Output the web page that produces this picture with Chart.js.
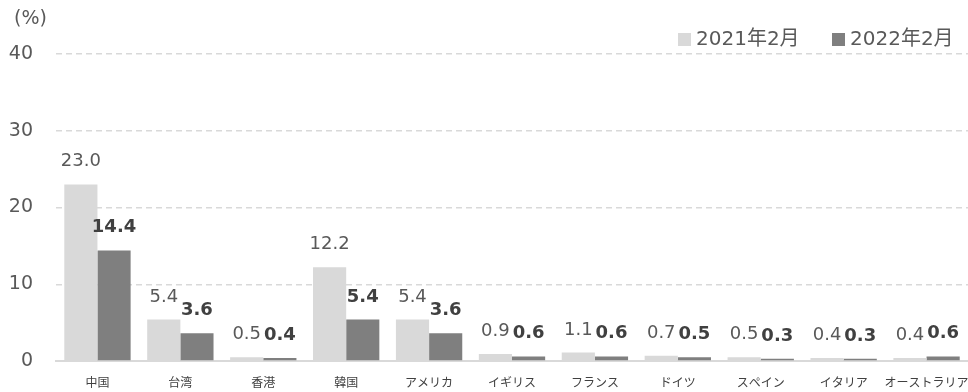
<!DOCTYPE html>
<html>
<head>
<meta charset="utf-8">
<script src="https://cdn.jsdelivr.net/npm/chart.js@4/dist/chart.umd.min.js"></script>
<style>
  html, body { margin: 0; padding: 0; background: #ffffff; }
  #wrap { width: 968px; height: 392px; position: relative; }
</style>
</head>
<body>
<div id="wrap"><canvas id="c" width="968" height="392"></canvas></div>
<script>
const categories = ["中国", "台湾", "香港", "韓国", "アメリカ", "イギリス", "フランス", "ドイツ", "スペイン", "イタリア", "オーストラリア"];
const seriesNames = ["2021年2月", "2022年2月"];
const values2021 = [23.0, 5.4, 0.5, 12.2, 5.4, 0.9, 1.1, 0.7, 0.5, 0.4, 0.4];
const values2022 = [14.4, 3.6, 0.4, 5.4, 3.6, 0.6, 0.6, 0.5, 0.3, 0.3, 0.6];
const yTicks = [0, 10, 20, 30, 40];
const unitLabel = "(%)";

const FONT = "'DejaVu Sans', 'Noto Sans CJK JP', sans-serif";
const LIGHT = "#d9d9d9";
const DARK = "#7f7f7f";

const labelPlugin = {
  id: "labels",
  afterDatasetsDraw(chart) {
    const ctx = chart.ctx;
    ctx.save();
    chart.data.datasets.forEach((ds, di) => {
      const meta = chart.getDatasetMeta(di);
      meta.data.forEach((bar, i) => {
        const v = ds.data[i];
        ctx.font = (di === 1 ? "bold " : "") + "18px " + FONT;
        ctx.fillStyle = di === 1 ? "#404040" : "#595959";
        ctx.textAlign = "center";
        ctx.textBaseline = "alphabetic";
        ctx.fillText(v.toFixed(1), bar.x, bar.y - 18);
      });
    });
    ctx.restore();
  }
};

const extrasPlugin = {
  id: "extras",
  afterDraw(chart) {
    const ctx = chart.ctx;
    ctx.save();
    ctx.font = "19px " + FONT;
    ctx.fillStyle = "#595959";
    ctx.textAlign = "left";
    ctx.textBaseline = "middle";
    ctx.fillText(unitLabel, 14, 19);
    ctx.font = "20px " + FONT;
    const items = [
      { x: 678, color: LIGHT, text: seriesNames[0] },
      { x: 832, color: DARK, text: seriesNames[1] }
    ];
    items.forEach(it => {
      ctx.fillStyle = it.color;
      ctx.fillRect(it.x, 33, 13, 13);
      ctx.fillStyle = "#595959";
      ctx.textBaseline = "middle";
      ctx.fillText(it.text, it.x + 18, 40);
    });
    ctx.restore();
  }
};

new Chart(document.getElementById("c"), {
  type: "bar",
  data: {
    labels: categories,
    datasets: [
      { label: seriesNames[0], data: values2021, backgroundColor: LIGHT, categoryPercentage: 0.8, barPercentage: 1.0 },
      { label: seriesNames[1], data: values2022, backgroundColor: DARK, categoryPercentage: 0.8, barPercentage: 1.0 }
    ]
  },
  options: {
    responsive: false,
    animation: false,
    devicePixelRatio: 1,
    layout: { padding: { top: 54, left: 0, right: 0, bottom: 0 } },
    plugins: { legend: { display: false }, tooltip: { enabled: false } },
    scales: {
      x: {
        grid: { display: false, drawTicks: false },
        border: { display: true, color: "#d9d9d9", width: 2 },
        ticks: { font: { family: "'Noto Sans CJK JP', sans-serif", size: 12 }, color: "#404040", padding: 14, maxRotation: 0, autoSkip: false },
        afterFit(scale) { scale.height = 31; scale.paddingLeft = 0; scale.paddingRight = 0; }
      },
      y: {
        min: 0,
        max: 40,
        afterBuildTicks(scale) { scale.ticks = yTicks.map(v => ({ value: v })); },
        grid: { color: "#d9d9d9", lineWidth: 1.5, drawTicks: false },
        border: { display: false, dash: [6, 4] },
        ticks: { font: { family: FONT, size: 19 }, color: "#595959", padding: 23 },
        afterFit(scale) { scale.width = 56; scale.paddingTop = 0; scale.paddingBottom = 0; }
      }
    }
  },
  plugins: [labelPlugin, extrasPlugin]
});
</script>
</body>
</html>
